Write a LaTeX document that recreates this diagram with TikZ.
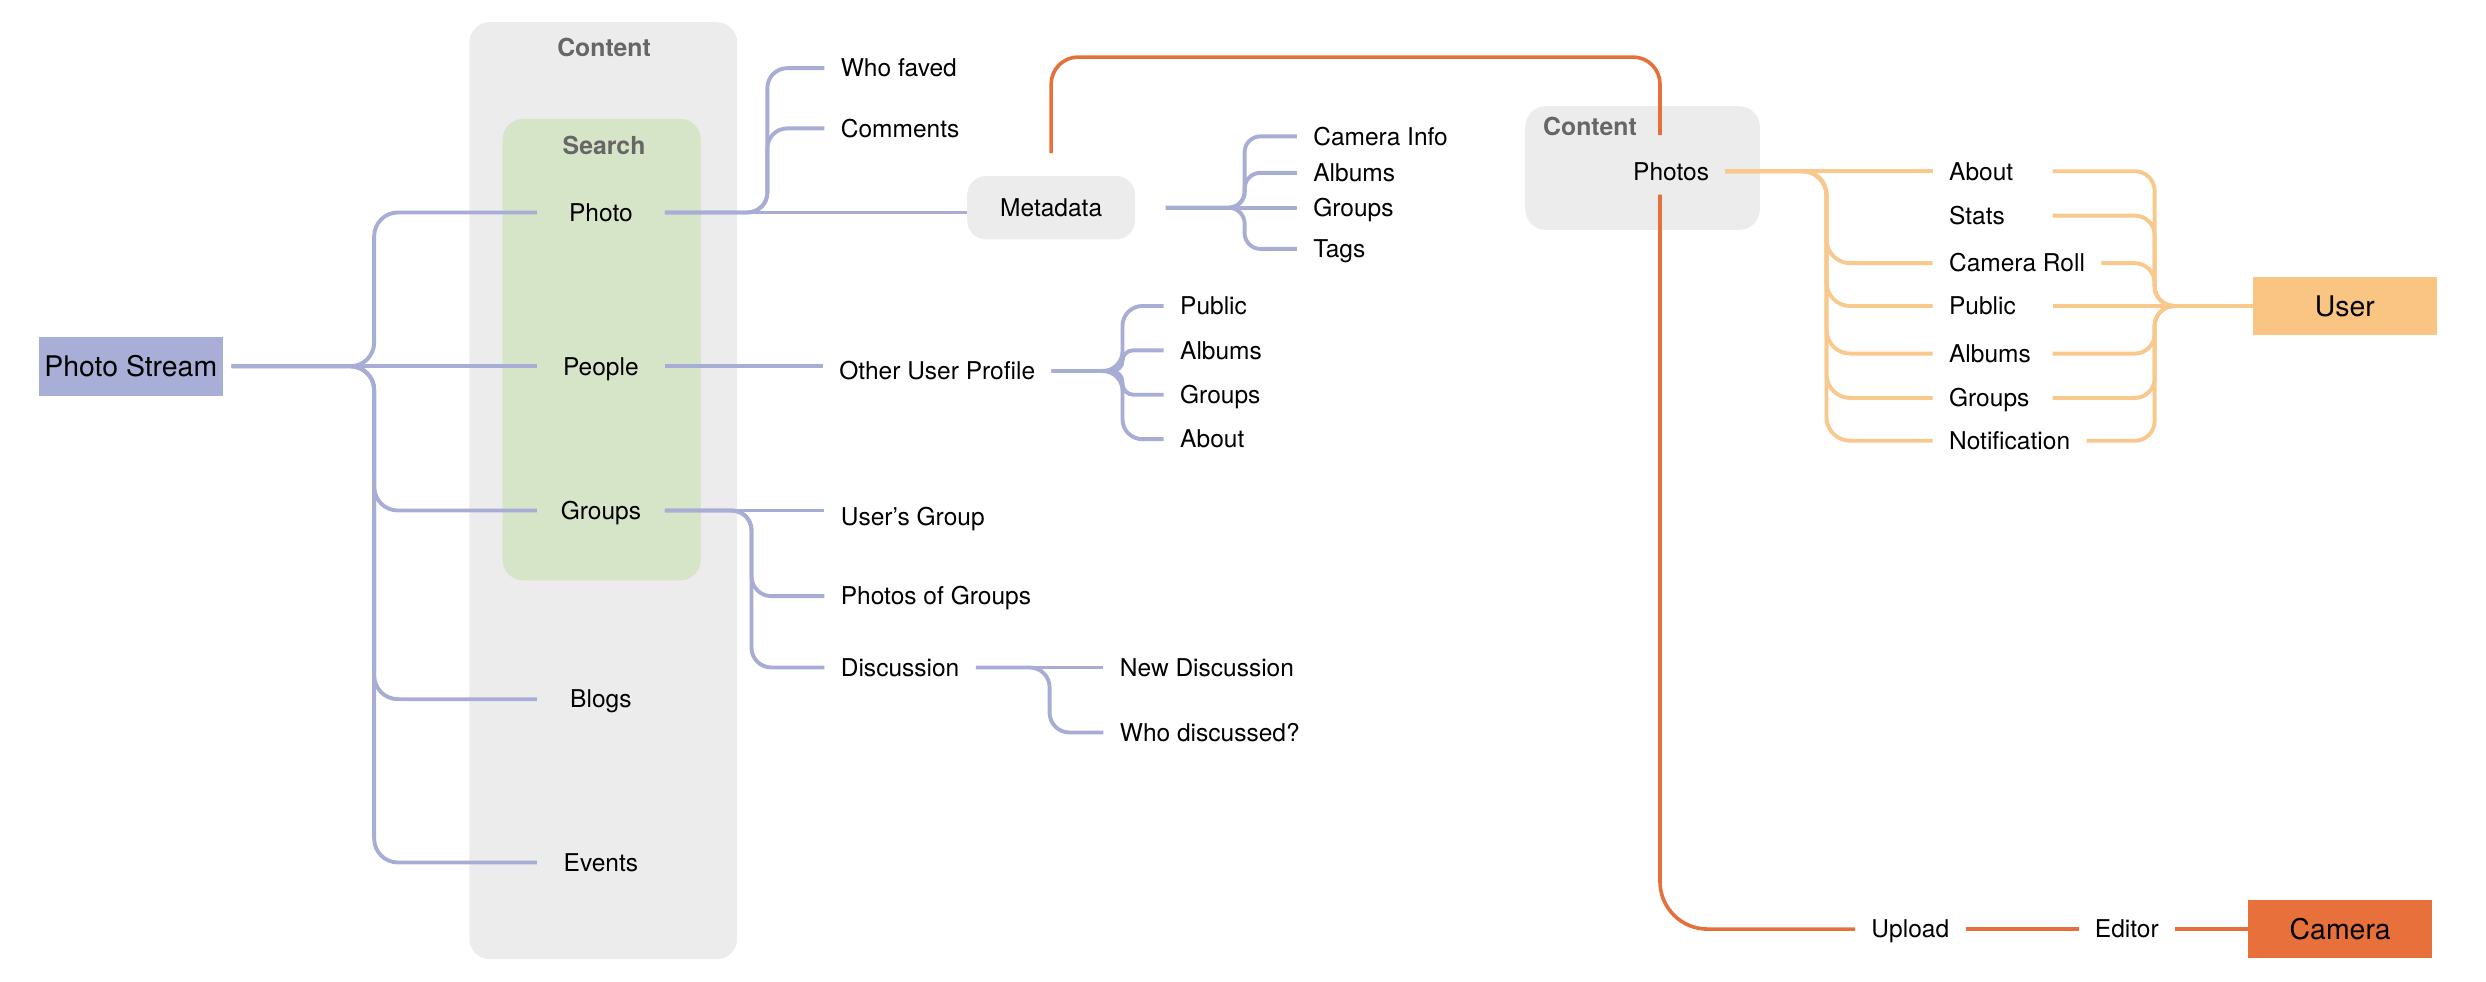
\documentclass[tikz,border=0pt]{standalone}
\usepackage{fontspec}
\setmainfont{TeX Gyre Heros}
\usepackage{tikz}
\definecolor{lavline}{RGB}{168,173,214}
\definecolor{lavfill}{RGB}{169,174,214}
\definecolor{boxgray}{RGB}{236,236,236}
\definecolor{searchgreen}{RGB}{214,228,199}
\definecolor{titlegray}{RGB}{102,102,102}
\definecolor{peachline}{RGB}{249,200,141}
\definecolor{peachfill}{RGB}{250,196,131}
\definecolor{orangeline}{RGB}{229,112,59}
\definecolor{orangefill}{RGB}{232,112,58}
\begin{document}
\begin{tikzpicture}[x=0.02cm, y=-0.02cm,
	every node/.style={text height=6.3pt, text depth=0pt, font=\fontsize{8.8}{10.5}\selectfont},
	leaf/.style={anchor=west, inner xsep=0.2cm},
	sub/.style={minimum width=1.6cm, inner xsep=0pt},
	big/.style={minimum width=2.32cm, minimum height=0.74cm, inner xsep=1pt, text height=7.3pt, font=\fontsize{10.2}{12}\selectfont},
	head/.style={text=titlegray, font=\bfseries\fontsize{8.9}{10.5}\selectfont},
	lav/.style={draw=lavline, line width=1.4pt},
	pea/.style={draw=peachline, line width=1.4pt},
	org/.style={draw=orangeline, line width=1.3pt}]
		\useasboundingbox (0,0) rectangle (1568,619);
		\fill[boxgray, rounded corners=0.26cm] (296,14) rectangle (465,605);
		\fill[searchgreen, rounded corners=0.26cm] (317,75) rectangle (442,366);
		\fill[boxgray, rounded corners=0.26cm] (962,67) rectangle (1110,145);
		\node[head] (content) at (381,30) {Content};
		\node[head] (search) at (381,92) {Search};
		\node[head, anchor=west, inner xsep=0pt] (content2) at (973,80) {Content};
		\node[big, fill=lavfill] (stream) at (82.5,231) {Photo Stream};
		\coordinate (streamfork) at (236,231);
		\node[sub] (photo) at (379,134) {Photo};	\draw[lav, rounded corners=0.3cm, shorten <=3pt] (stream.east) -- (streamfork) |- (photo.west);
		\node[sub] (people) at (379,231) {People};	\draw[lav, shorten <=3pt] (stream.east) -- (people.west);
		\node[sub] (groups) at (379,322) {Groups};	\draw[lav, rounded corners=0.3cm, shorten <=3pt] (stream.east) -- (streamfork) |- (groups.west);
		\node[sub] (blogs) at (379,441) {Blogs};	\draw[lav, rounded corners=0.3cm, shorten <=3pt] (stream.east) -- (streamfork) |- (blogs.west);
		\node[sub] (events) at (379,544) {Events};	\draw[lav, rounded corners=0.3cm, shorten <=3pt] (stream.east) -- (streamfork) |- (events.west);
		\coordinate (photofork) at (484,134);
		\node[leaf] (whofaved) at (520,43) {Who faved};	\draw[lav, rounded corners=0.25cm] (photo.east) -- (photofork) |- (whofaved.west);
		\node[leaf] (comments) at (520,81) {Comments};	\draw[lav, rounded corners=0.25cm] (photo.east) -- (photofork) |- (comments.west);
		\node[fill=boxgray, rounded corners=0.24cm, minimum width=2.12cm, minimum height=0.8cm] (metadata) at (663,131) {Metadata};
			\draw[lav] (photo.east) -- (photo.east -| metadata.west);
		\coordinate (mdfork) at (785,131);
		\node[leaf] (camerainfo) at (818,86) {Camera Info};	\draw[lav, rounded corners=0.2cm, shorten <=0.38cm] (metadata.east) -- (mdfork) |- (camerainfo.west);
		\node[leaf] (mdalbums) at (818,109) {Albums};	\draw[lav, rounded corners=0.2cm, shorten <=0.38cm] (metadata.east) -- (mdfork) |- (mdalbums.west);
		\node[leaf] (mdgroups) at (818,131) {Groups};	\draw[lav, shorten <=0.38cm] (metadata.east) -- (mdgroups.west);
		\node[leaf] (mdtags) at (818,157) {Tags};	\draw[lav, rounded corners=0.2cm, shorten <=0.38cm] (metadata.east) -- (mdfork) |- (mdtags.west);
		\node[leaf] (otherprofile) at (519,234) {Other User Profile};	\draw[lav] (people.east) -- (people.east -| otherprofile.west);
		\coordinate (opfork) at (708,234);
		\node[leaf] (oppublic) at (734,193) {Public};	\draw[lav, rounded corners=0.25cm] (otherprofile.east) -- (opfork) |- (oppublic.west);
		\node[leaf] (opalbums) at (734,221) {Albums};	\draw[lav, rounded corners=0.13cm] (otherprofile.east) -- (opfork) |- (opalbums.west);
		\node[leaf] (opgroups) at (734,249) {Groups};	\draw[lav, rounded corners=0.14cm] (otherprofile.east) -- (opfork) |- (opgroups.west);
		\node[leaf] (opabout) at (734,277) {About};	\draw[lav, rounded corners=0.25cm] (otherprofile.east) -- (opfork) |- (opabout.west);
		\coordinate (groupsfork) at (474,322);
		\node[leaf] (usersgroup) at (520,326) {User's Group};	\draw[lav] (groups.east) -- (groups.east -| usersgroup.west);
		\node[leaf] (photosgroups) at (520,376) {Photos of Groups};	\draw[lav, rounded corners=0.25cm] (groups.east) -- (groupsfork) |- (photosgroups.west);
		\node[leaf] (discussion) at (520,421) {Discussion};	\draw[lav, rounded corners=0.25cm] (groups.east) -- (groupsfork) |- (discussion.west);
		\coordinate (discfork) at (662,421);
		\node[leaf] (newdisc) at (696,421) {New Discussion};	\draw[lav] (discussion.east) -- (newdisc.west);
		\node[leaf] (whodisc) at (696,462) {Who discussed?};	\draw[lav, rounded corners=0.25cm] (discussion.east) -- (discfork) |- (whodisc.west);
		\node[inner xsep=0.2cm] (photos) at (1054,108) {Photos};
		\coordinate (orangetop) at (1047,36);
			\draw[org, rounded corners=0.34cm, shorten <=0.28cm, shorten >=0.22cm] (metadata.north) |- (orangetop) -- (orangetop |- photos.north);
		\node[leaf] (upload) at (1170,586) {Upload};	\draw[org, rounded corners=0.6cm, shorten <=0.06cm] (orangetop |- photos.south) |- (upload.west);
		\node[leaf] (editor) at (1311,586) {Editor};	\draw[org] (upload.east) -- (editor.west);
		\node[big, fill=orangefill] (camera) at (1476,586) {Camera};	\draw[org] (editor.east) -- (camera.west);
		\node[big, fill=peachfill] (user) at (1479,193) {User};
		\coordinate (photosfork) at (1152,108);
		\coordinate (userfork) at (1359,193);
		\node[leaf, text width=1.1cm, align=left] (about) at (1219,108) {About};
			\draw[pea] (photos.east) -- (photos.east -| about.west); \draw[pea, rounded corners=0.25cm] (about.east) -| (userfork) -- (user.west);
		\node[leaf, text width=1.1cm, align=left] (stats) at (1219,136) {Stats};
			\draw[pea, rounded corners=0.25cm] (stats.east) -| (userfork) -- (user.west);
		\node[leaf] (cameraroll) at (1219,166) {Camera Roll};
			\draw[pea, rounded corners=0.3cm] (photos.east) -- (photosfork) |- (cameraroll.west); \draw[pea, rounded corners=0.25cm] (cameraroll.east) -| (userfork) -- (user.west);
		\node[leaf, text width=1.1cm, align=left] (upublic) at (1219,193) {Public};
			\draw[pea, rounded corners=0.3cm] (photos.east) -- (photosfork) |- (upublic.west); \draw[pea] (upublic.east) -- (user.west);
		\node[leaf, text width=1.1cm, align=left] (ualbums) at (1219,223) {Albums};
			\draw[pea, rounded corners=0.3cm] (photos.east) -- (photosfork) |- (ualbums.west); \draw[pea, rounded corners=0.25cm] (ualbums.east) -| (userfork) -- (user.west);
		\node[leaf, text width=1.1cm, align=left] (ugroups) at (1219,251) {Groups};
			\draw[pea, rounded corners=0.3cm] (photos.east) -- (photosfork) |- (ugroups.west); \draw[pea, rounded corners=0.25cm] (ugroups.east) -| (userfork) -- (user.west);
		\node[leaf] (notification) at (1219,278) {Notification};
			\draw[pea, rounded corners=0.3cm] (photos.east) -- (photosfork) |- (notification.west); \draw[pea, rounded corners=0.25cm] (notification.east) -| (userfork) -- (user.west);
	\end{tikzpicture}
\end{document}
